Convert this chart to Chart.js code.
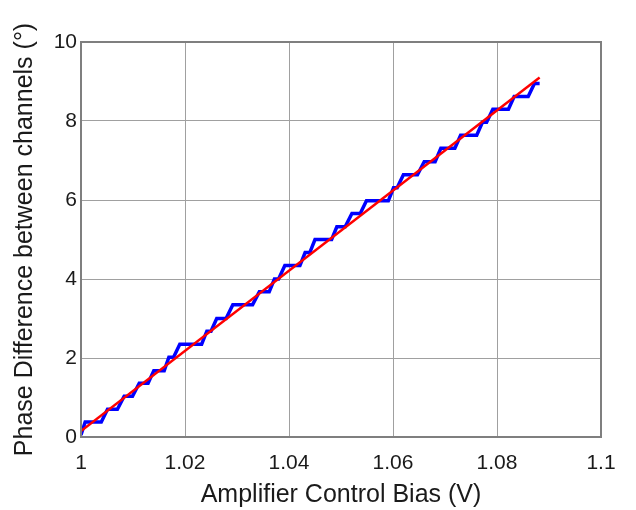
<!DOCTYPE html>
<html>
<head>
<meta charset="utf-8">
<title>Phase difference vs amplifier control bias</title>
<script src="https://cdn.jsdelivr.net/npm/chart.js@4.4.1/dist/chart.umd.min.js"></script>
<style>
  html, body { margin: 0; padding: 0; background: #ffffff; }
  #wrap { width: 636px; height: 510px; }
</style>
</head>
<body>
<div id="wrap"><canvas id="chart" width="636" height="510"></canvas></div>
<script>
// Measured staircase (blue) - bias in V, phase difference in degrees
const stairX = [1.0000, 1.0008, 1.0039, 1.0051, 1.0070, 1.0083, 1.0099, 1.0112, 1.0129, 1.0140,
                1.0160, 1.0169, 1.0178, 1.0190, 1.0232, 1.0242, 1.0250, 1.0261, 1.0279, 1.0292,
                1.0330, 1.0343, 1.0362, 1.0372, 1.0380, 1.0392, 1.0421, 1.0431, 1.0440, 1.0450,
                1.0482, 1.0492, 1.0508, 1.0521, 1.0537, 1.0549, 1.0591, 1.0601, 1.0608, 1.0620,
                1.0647, 1.0660, 1.0681, 1.0692, 1.0719, 1.0730, 1.0761, 1.0772, 1.0780, 1.0792,
                1.0822, 1.0833, 1.0860, 1.0872, 1.0882];
const stairY = [0.05, 0.38, 0.38, 0.70, 0.70, 1.03, 1.03, 1.36, 1.36, 1.68,
                1.68, 2.02, 2.02, 2.35, 2.35, 2.68, 2.68, 3.00, 3.00, 3.35,
                3.35, 3.68, 3.68, 4.00, 4.00, 4.34, 4.34, 4.67, 4.67, 5.00,
                5.00, 5.32, 5.32, 5.66, 5.66, 5.98, 5.98, 6.31, 6.31, 6.64,
                6.64, 6.97, 6.97, 7.31, 7.31, 7.64, 7.64, 7.97, 7.97, 8.30,
                8.30, 8.62, 8.62, 8.95, 8.95];

// Linear fit (red)
const fitX = [1.0000, 1.0882];
const fitY = [0.15, 9.10];

// Axis ticks
const xTicks = [1.00, 1.02, 1.04, 1.06, 1.08, 1.10];
const xTickLabels = ['1', '1.02', '1.04', '1.06', '1.08', '1.1'];
const yTicks = [0, 2, 4, 6, 8, 10];
const yTickLabels = ['0', '2', '4', '6', '8', '10'];

function toPoints(xs, ys) {
    return xs.map((x, i) => ({ x: x, y: ys[i] }));
}

// Draw the full box around the plot area (MATLAB style)
const boxPlugin = {
    id: 'box',
    afterDraw(chart) {
        const a = chart.chartArea;
        const ctx = chart.ctx;
        ctx.save();
        ctx.strokeStyle = '#7f7f7f';
        ctx.lineWidth = 2;
        ctx.strokeRect(a.left, a.top, a.right - a.left, a.bottom - a.top);
        ctx.restore();
    }
};

const tickFont = { family: '"Liberation Sans", Arial, sans-serif', size: 21 };
const titleFont = { family: '"Liberation Sans", Arial, sans-serif', size: 25 };

new Chart(document.getElementById('chart'), {
    type: 'scatter',
    data: {
        datasets: [
            {
                label: 'Fit',
                data: toPoints(fitX, fitY),
                showLine: true,
                borderColor: '#ff0000',
                borderWidth: 2.5,
                pointRadius: 0,
                tension: 0
            },
            {
                label: 'Measured',
                data: toPoints(stairX, stairY),
                showLine: true,
                borderColor: '#0000ff',
                borderWidth: 3.5,
                pointRadius: 0,
                tension: 0
            }
        ]
    },
    options: {
        responsive: false,
        animation: false,
        layout: { padding: { top: 42, right: 35, left: 0, bottom: 0 } },
        plugins: {
            legend: { display: false },
            tooltip: { enabled: false }
        },
        scales: {
            x: {
                type: 'linear',
                min: 1.0,
                max: 1.1,
                afterBuildTicks: scale => { scale.ticks = xTicks.map(v => ({ value: v })); },
                afterFit: scale => { scale.height = 73; },
                ticks: {
                    color: '#1a1a1a',
                    font: tickFont,
                    padding: 14,
                    maxRotation: 0,
                    autoSkip: false,
                    callback: (v, i) => xTickLabels[i]
                },
                grid: { color: '#a0a0a0', lineWidth: 1, drawTicks: false },
                border: { display: false },
                title: {
                    display: true,
                    text: 'Amplifier Control Bias (V)',
                    color: '#1a1a1a',
                    font: titleFont,
                    padding: 0
                }
            },
            y: {
                type: 'linear',
                min: 0,
                max: 10,
                afterBuildTicks: scale => { scale.ticks = yTicks.map(v => ({ value: v })); },
                afterFit: scale => { scale.width = 81; },
                ticks: {
                    color: '#1a1a1a',
                    font: tickFont,
                    padding: 4,
                    autoSkip: false,
                    callback: (v, i) => yTickLabels[i]
                },
                grid: { color: '#a0a0a0', lineWidth: 1, drawTicks: false },
                border: { display: false },
                title: {
                    display: true,
                    text: 'Phase Difference between channels (°)',
                    color: '#1a1a1a',
                    font: titleFont,
                    padding: 10
                }
            }
        }
    },
    plugins: [boxPlugin]
});
</script>
</body>
</html>
